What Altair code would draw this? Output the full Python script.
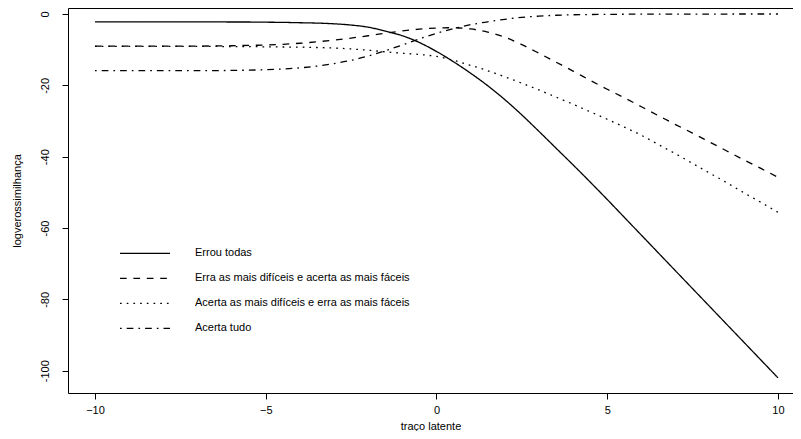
import altair as alt
import pandas as pd

theta = [-10, -9.5, -9, -8.5, -8, -7.5, -7, -6.5, -6, -5.5, -5, -4.5, -4, -3.5, -3,
         -2.5, -2, -1.5, -1, -0.5, 0, 0.5, 1, 1.5, 2, 2.5, 3, 3.5, 4, 4.5, 5,
         5.5, 6, 6.5, 7, 7.5, 8, 8.5, 9, 9.5, 10]

errou_todas = [-2.2, -2.2, -2.2, -2.2, -2.2, -2.2, -2.2, -2.2, -2.25, -2.25, -2.3,
               -2.35, -2.45, -2.55, -2.75, -3.1, -3.7, -4.8, -6.1, -8.0, -10.5,
               -13.4, -16.6, -20.1, -24.0, -28.3, -32.9, -37.6, -42.3, -47.1, -52.0,
               -57.0, -62.0, -67.0, -72.0, -77.0, -82.0, -87.0, -92.0, -97.0, -102.0]

erra_dificeis = [-9.0, -9.0, -9.0, -9.0, -9.0, -9.0, -9.0, -8.95, -8.9, -8.8, -8.7,
                 -8.5, -8.2, -7.8, -7.3, -6.75, -6.1, -5.4, -4.75, -4.25, -3.95,
                 -3.85, -4.2, -5.1, -6.5, -8.6, -11.0, -13.5, -16.0, -18.6, -21.1,
                 -23.5, -26.0, -28.5, -31.0, -33.4, -35.9, -38.4, -40.9, -43.3, -45.8]

acerta_dificeis = [-9.1, -9.1, -9.1, -9.1, -9.1, -9.1, -9.1, -9.1, -9.15, -9.15, -9.2,
                   -9.25, -9.3, -9.4, -9.55, -9.8, -10.15, -10.6, -11.0, -11.35, -11.9,
                   -13.0, -14.4, -15.9, -17.6, -19.4, -21.3, -23.3, -25.3, -27.4, -29.5,
                   -31.7, -34.0, -36.6, -39.2, -41.9, -44.6, -47.3, -50.1, -52.8, -55.6]

acerta_tudo = [-15.9, -15.9, -15.9, -15.9, -15.9, -15.9, -15.9, -15.9, -15.8, -15.75, -15.6,
               -15.4, -15.1, -14.6, -13.9, -13.0, -11.8, -10.3, -8.7, -7.0, -5.4,
               -4.1, -3.0, -2.2, -1.5, -0.95, -0.6, -0.35, -0.22, -0.15, -0.1,
               -0.07, -0.05, -0.03, -0.02, -0.015, -0.01, -0.01, -0.005, -0.005, 0.0]

series_names = ["Errou todas",
                "Erra as mais difíceis e acerta as mais fáceis",
                "Acerta as mais difíceis e erra as mais fáceis",
                "Acerta tudo"]
series_values = [errou_todas, erra_dificeis, acerta_dificeis, acerta_tudo]
dash_styles = [[1, 0], [6.7, 6.7], [1.7, 5], [1.7, 5, 6.7, 5]]

x_ticks = [-10, -5, 0, 5, 10]
y_ticks = [0, -20, -40, -60, -80, -100]

rows = []
for name, vals in zip(series_names, series_values):
    for t, v in zip(theta, vals):
        rows.append({"theta": t, "ll": v, "serie": name})
df = pd.DataFrame(rows)

FONT = "Liberation Sans"

x_scale = alt.Scale(domain=[-10.79, 10.44], nice=False, zero=False)
y_scale = alt.Scale(domain=[-106.25, 1.68], nice=False, zero=False)

lines = alt.Chart(df).mark_line(
    color="black", strokeWidth=1.3, interpolate="monotone"
).encode(
    x=alt.X("theta:Q", scale=x_scale,
            axis=alt.Axis(values=x_ticks, title="traço latente", grid=False,
                          domain=True, domainColor="black", domainWidth=1,
                          tickColor="black", tickSize=6,
                          labelFontSize=11, labelFont=FONT, labelColor="black",
                          labelPadding=5, labelBaseline="top",
                          titleFont=FONT, titleFontSize=11, titleFontWeight="normal",
                          titleColor="black", titleBaseline="alphabetic", titleY=36)),
    y=alt.Y("ll:Q", scale=y_scale,
            axis=alt.Axis(values=y_ticks, title="logverossimilhança", grid=False,
                          domain=True, domainColor="black", domainWidth=1,
                          tickColor="black", tickSize=6,
                          labelFontSize=11, labelFont=FONT, labelColor="black",
                          labelAngle=270, labelAlign="center",
                          labelBaseline="alphabetic", labelPadding=14,
                          labelExpr="replace(datum.label, '\u2212', '-')",
                          titleFont=FONT, titleFontSize=11, titleFontWeight="normal",
                          titleColor="black", titleAngle=270,
                          titleBaseline="alphabetic", titleX=-47.5)),
    strokeDash=alt.StrokeDash(
        "serie:N",
        scale=alt.Scale(domain=series_names, range=dash_styles),
        legend=alt.Legend(orient="none", legendX=51, legendY=233.2, title=None,
                          symbolType="stroke", symbolSize=2500,
                          symbolStrokeWidth=1.3, symbolStrokeColor="black",
                          labelFontSize=11, labelFont=FONT, labelColor="black",
                          labelOffset=24, clipHeight=24.2, rowPadding=0,
                          padding=0, labelLimit=0)),
)

top_frame = alt.Chart(df).mark_line(opacity=0).encode(
    x=alt.X("theta:Q", scale=x_scale,
            axis=alt.Axis(orient="top", labels=False, ticks=False, title=None,
                          grid=False, domain=True, domainColor="black",
                          domainWidth=1)),
)

chart = alt.layer(lines, top_frame).resolve_axis(x="independent").properties(
    width=725, height=385,
    autosize=alt.AutoSizeParams(type="none"),
    padding={"left": 60, "top": 0, "right": 0, "bottom": 38},
    background="white",
).configure_view(
    stroke=None
)

chart.save("out.html", embed_options={"renderer": "svg", "actions": False})
